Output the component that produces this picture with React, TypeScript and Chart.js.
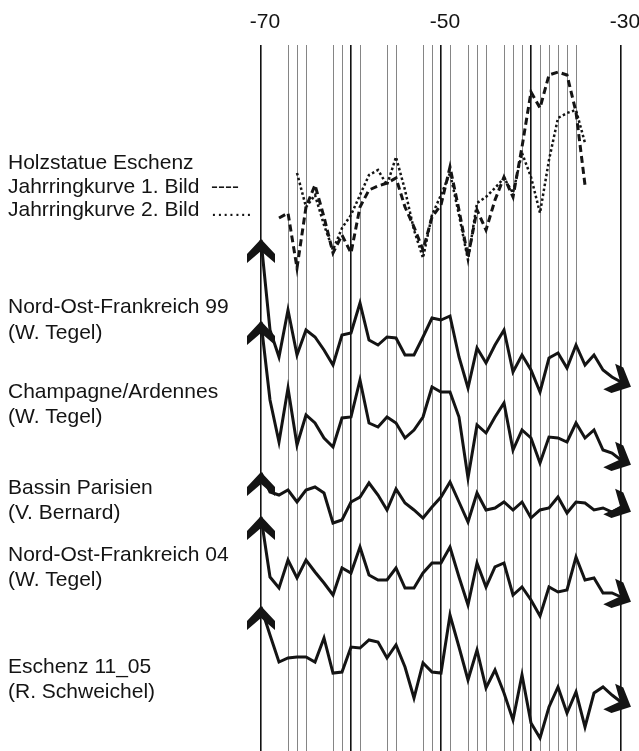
import { useEffect, useRef } from 'react';
import { Chart, registerables } from 'chart.js';

Chart.register(...registerables);

// ---- axis / categories ----
const GRID_YEARS = [-70, -67, -66, -65, -62, -61, -60, -59, -56, -55, -52, -51, -50, -49, -47, -46, -45, -43, -42, -41, -40, -39, -38, -37, -36, -35, -30];
const DECADE_YEARS = [-70, -60, -50, -40, -30];
const TICK_LABELS = [-70, -50, -30];

// ---- series values (relative curve heights) ----
const BILD1_START = -68;
const BILD1 = [62, 67, 12, 73, 95, 63, 27, 45, 27, 73, 90, 94, 97, 102, 73, 53, 30, 63, 75, 113, 70, 23, 70, 50, 80, 103, 83, 133, 188, 172, 205, 208, 205, 168, 95];
const BILD2_START = -66;
const BILD2 = [107, 73, 85, 55, 30, 52, 65, 85, 105, 110, 95, 123, 90, 50, 22, 65, 85, 107, 65, 20, 77, 83, 92, 102, 87, 127, 103, 67, 120, 162, 167, 170, 137];

const REF_START = -70;
const NOF99 = [155, 65, 38, 85, 40, 65, 58, 45, 30, 60, 62, 92, 55, 50, 58, 57, 40, 40, 58, 77, 75, 79, 38, 7, 47, 32, 50, 65, 23, 40, 25, 3, 37, 42, 27, 50, 30, 40, 25, 18, 13];
const CHAMPAGNE = [158, 80, 38, 92, 35, 65, 57, 42, 33, 62, 63, 100, 57, 53, 63, 57, 42, 50, 63, 93, 88, 88, 63, 2, 55, 47, 63, 77, 30, 50, 42, 17, 43, 42, 38, 57, 42, 50, 30, 27, 20];
const BASSIN = [57, 38, 35, 40, 28, 40, 43, 37, 7, 10, 28, 33, 47, 35, 20, 41, 27, 20, 12, 23, 33, 48, 28, 8, 37, 20, 22, 28, 20, 28, 12, 20, 22, 33, 17, 28, 27, 20, 22, 18, 23];
const NOF04 = [103, 43, 32, 60, 42, 60, 48, 37, 25, 52, 47, 73, 45, 40, 40, 52, 32, 32, 47, 57, 57, 73, 43, 15, 57, 33, 53, 57, 25, 33, 20, 4, 33, 28, 30, 63, 40, 42, 27, 27, 23];
const ESCHENZ = [138, 110, 83, 87, 88, 88, 83, 107, 72, 73, 98, 97, 105, 103, 87, 100, 78, 47, 82, 73, 72, 130, 98, 65, 95, 57, 75, 52, 25, 70, 22, 7, 38, 58, 32, 53, 18, 52, 58, 50, 43];

// ---- label texts ----
const LABEL_TEXTS = [
  'Holzstatue Eschenz',
  'Jahrringkurve 1. Bild  ----',
  'Jahrringkurve 2. Bild  .......',
  'Nord-Ost-Frankreich 99',
  '(W. Tegel)',
  'Champagne/Ardennes',
  '(W. Tegel)',
  'Bassin Parisien',
  '(V. Bernard)',
  'Nord-Ost-Frankreich 04',
  '(W. Tegel)',
  'Eschenz 11_05',
  '(R. Schweichel)',
];

// layout (not data)
const LABEL_Y = [163, 187, 210, 307, 333, 392, 417, 488, 513, 555, 580, 667, 692];
const Y_MAX = 706;
const OFFSETS = { bild: 471, nof99: 356, champ: 271, bassin: 221, nof04: 131, eschenz: 6 };
const FONT = '"Liberation Sans", Arial, Helvetica, sans-serif';
const INK = '#141414';

function toXY(start: number, values: number[], base: number) {
  return values.map((v, i) => ({ x: start + i, y: base + v }));
}

function drawHead(ctx: CanvasRenderingContext2D, x: number, y: number, ang: number) {
  ctx.save();
  ctx.translate(x, y);
  ctx.rotate(ang);
  ctx.beginPath();
  ctx.moveTo(0, 0);
  ctx.lineTo(-15, -14);
  ctx.lineTo(-24, -14);
  ctx.lineTo(-12, 0);
  ctx.lineTo(-24, 14);
  ctx.lineTo(-15, 14);
  ctx.closePath();
  ctx.fillStyle = INK;
  ctx.fill();
  ctx.restore();
}

const arrowPlugin = {
  id: 'arrowHeads',
  afterDatasetsDraw(chart: any) {
    const ctx = chart.ctx as CanvasRenderingContext2D;
    chart.data.datasets.forEach((ds: any, i: number) => {
      if (!ds.arrows) return;
      const pts = chart.getDatasetMeta(i).data;
      const a = pts[0];
      const b = pts[pts.length - 1];
      drawHead(ctx, a.x, a.y - 1, -Math.PI / 2);
      const ang = (25 * Math.PI) / 180;
      drawHead(ctx, b.x + Math.cos(ang) * 11, b.y + Math.sin(ang) * 11, ang);
    });
  },
};

const labelPlugin = {
  id: 'seriesLabels',
  afterDraw(chart: any) {
    const ctx = chart.ctx as CanvasRenderingContext2D;
    ctx.save();
    ctx.font = `21px ${FONT}`;
    ctx.fillStyle = INK;
    ctx.textBaseline = 'middle';
    ctx.textAlign = 'left';
    LABEL_TEXTS.forEach((t, i) => ctx.fillText(t, 8, LABEL_Y[i]));
    ctx.restore();
  },
};

export default function App() {
  const ref = useRef<HTMLCanvasElement | null>(null);

  useEffect(() => {
    if (!ref.current) return;
    const solid = (data: any[]) => ({
      data,
      borderColor: INK,
      borderWidth: 3,
      pointRadius: 0,
      tension: 0,
      fill: false,
      clip: false,
      arrows: true,
    });
    const chart = new Chart(ref.current, {
      type: 'line',
      data: {
        datasets: [
          {
            data: toXY(BILD1_START, BILD1, OFFSETS.bild),
            borderColor: INK,
            borderWidth: 3,
            borderDash: [7, 4],
            pointRadius: 0,
            tension: 0,
            fill: false,
            clip: false,
          },
          {
            data: toXY(BILD2_START, BILD2, OFFSETS.bild),
            borderColor: INK,
            borderWidth: 2.5,
            borderDash: [2.5, 2.5],
            pointRadius: 0,
            tension: 0,
            fill: false,
            clip: false,
          },
          solid(toXY(REF_START, NOF99, OFFSETS.nof99)),
          solid(toXY(REF_START, CHAMPAGNE, OFFSETS.champ)),
          solid(toXY(REF_START, BASSIN, OFFSETS.bassin)),
          solid(toXY(REF_START, NOF04, OFFSETS.nof04)),
          solid(toXY(REF_START, ESCHENZ, OFFSETS.eschenz)),
        ] as any,
      },
      options: {
        animation: false,
        responsive: false,
        devicePixelRatio: 1,
        layout: { padding: { left: 261, right: 18, top: 0, bottom: 0 } },
        plugins: { legend: { display: false }, tooltip: { enabled: false } },
        scales: {
          x: {
            type: 'linear',
            position: 'top',
            min: -70,
            max: -30,
            afterBuildTicks: (s: any) => {
              s.ticks = GRID_YEARS.map((v) => ({ value: v }));
            },
            afterFit: (s: any) => {
              s.height = 45;
              s.paddingLeft = 0;
              s.paddingRight = 0;
            },
            border: { display: false },
            grid: {
              drawTicks: false,
              color: (c: any) => (DECADE_YEARS.includes(c.tick?.value) ? '#111111' : '#858585'),
              lineWidth: (c: any) => (DECADE_YEARS.includes(c.tick?.value) ? 1.6 : 1),
            },
            ticks: {
              autoSkip: false,
              maxRotation: 0,
              minRotation: 0,
              padding: 10,
              labelOffset: 4,
              color: INK,
              font: { family: FONT, size: 21 },
              callback: (v: any) => (TICK_LABELS.includes(Number(v)) ? String(v) : ''),
            },
          },
          y: { display: false, min: 0, max: Y_MAX },
        },
      } as any,
      plugins: [arrowPlugin, labelPlugin],
    });
    return () => chart.destroy();
  }, []);

  return (
    <div style={{ position: 'fixed', left: 0, top: 0, width: 639, height: 751, background: '#fff' }}>
      <canvas ref={ref} width={639} height={751} style={{ width: 639, height: 751, display: 'block' }} />
    </div>
  );
}
